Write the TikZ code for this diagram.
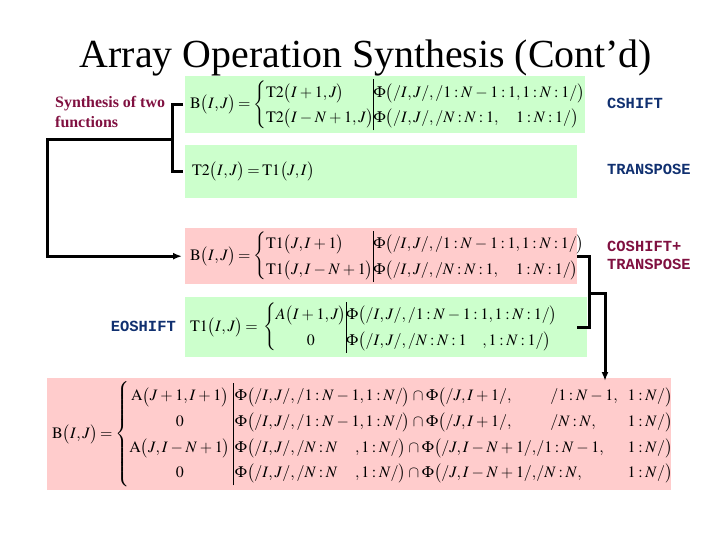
\documentclass[tikz,border=0pt]{standalone}
\usepackage{amsmath}
\usepackage{mathptmx}
\usepackage{fontspec}
\setmainfont{Liberation Serif}
\newfontfamily\opfont{Liberation Mono}
\usetikzlibrary{arrows.meta}
\definecolor{eqgreen}{RGB}{204,255,204}
\definecolor{eqpink}{RGB}{255,204,204}
\definecolor{opred}{RGB}{128,16,64}
\definecolor{opblue}{RGB}{16,48,112}
\newcommand{\grp}[1]{\bigl(#1\bigr)}
\thickmuskip=3mu plus 2mu
\medmuskip=3mu plus 2mu minus 3mu

\begin{document}
\begin{tikzpicture}[x=1bp, y=-1bp,
    eqbox/.style={anchor=north west, inner xsep=5bp, inner ysep=0pt, align=left,
      font=\fontsize{16}{19}\selectfont\def\arraystretch{1.35}},
    oplabel/.style={anchor=west, inner sep=0pt, align=left, font=\opfont\bfseries\fontsize{15.5}{18}\selectfont},
    link/.style={line width=3bp},
  ]
  \useasboundingbox (0,0) rectangle (720,540);

  \node[inner sep=0pt, font=\fontsize{40}{48}\selectfont] (title) at (366,58) {Array Operation Synthesis (Cont’d)};

  % equations
  \node[eqbox, fill=eqgreen, text width=390bp, minimum height=57bp] (cshift) at (185,76)
    {$\mathrm{B}\grp{I,J}=\left\{\begin{array}{@{}l@{}|@{}l@{}}
      \mathrm{T2}\grp{I+1,J} & \Phi\grp{/I,J/,/1:N-1:1,1:N:1/}\\
      \mathrm{T2}\grp{I-N+1,J} & \Phi\grp{/I,J/,/N:N:1,\quad 1:N:1/}
    \end{array}\right.$};
  \node[eqbox, fill=eqgreen, text width=382bp, minimum height=53bp] (transp) at (185,145)
    {\hspace{2bp}$\mathrm{T2}\grp{I,J}=\mathrm{T1}\grp{J,I}$};
  \node[eqbox, fill=eqpink, text width=382bp, minimum height=56bp] (both) at (185,228)
    {$\mathrm{B}\grp{I,J}=\left\{\begin{array}{@{}l@{}|@{}l@{}}
      \mathrm{T1}\grp{J,I+1} & \Phi\grp{/I,J/,/1:N-1:1,1:N:1/}\\
      \mathrm{T1}\grp{J,I-N+1} & \Phi\grp{/I,J/,/N:N:1,\quad 1:N:1/}
    \end{array}\right.$};
  \node[eqbox, fill=eqgreen, text width=392bp, minimum height=60bp] (eoshift) at (185,297)
    {$\mathrm{T1}\grp{I,J}=\;\left\{\begin{array}{@{}c@{}|@{}l@{}}
      A\grp{I+1,J} & \Phi\grp{/I,J/,/1:N-1:1,1:N:1/}\\
      0 & \Phi\grp{/I,J/,/N:N:1\quad,1:N:1/}
    \end{array}\right.$};
  \node[eqbox, fill=eqpink, text width=614bp, minimum height=112bp] (final) at (47,378)
    {$\mathrm{B}\grp{I,J}=\left\{\begin{array}{@{}c@{\;}|@{\,}l@{}l@{\hspace{10bp}}l@{}}
      \mathrm{A}\grp{J+1,I+1} & \Phi\grp{/I,J/,/1:N-1,1:N/}\cap\Phi\bigl(/J,I+1/, & \hspace{14bp}/1:N-1, & 1:N/\bigr)\\
      0 & \Phi\grp{/I,J/,/1:N-1,1:N/}\cap\Phi\bigl(/J,I+1/, & \hspace{14bp}/N:N, & 1:N/\bigr)\\
      \mathrm{A}\grp{J,I-N+1} & \Phi\grp{/I,J/,/N:N\quad\,,1:N/}\cap\Phi\bigl(/J,I-N+1/, & /1:N-1, & 1:N/\bigr)\\
      0 & \Phi\grp{/I,J/,/N:N\quad\,,1:N/}\cap\Phi\bigl(/J,I-N+1/, & /N:N, & 1:N/\bigr)
    \end{array}\right.$};

  % labels
  \node[anchor=west, inner sep=0pt, align=left, text=opred, font=\bfseries\fontsize{16}{20}\selectfont] (synth) at (55,112) {Synthesis of two\\functions};
  \node[oplabel, text=opblue] (lcshift) at (607,103.5) {CSHIFT};
  \node[oplabel, text=opblue] (ltransp) at (607,169.5) {TRANSPOSE};
  \node[oplabel, text=opred] (lboth) at (607,255.5) {COSHIFT+\\TRANSPOSE};
  \node[oplabel, text=opblue, anchor=east] (leoshift) at (176,326) {EOSHIFT};

  % connectors
  \coordinate (jl) at (172,140);
  \draw[link] ([xshift=-2bp]cshift.west) -| (jl) |- ([xshift=-2bp]transp.west);
  \draw[link, -{Latex[length=9bp, width=7bp]}] (jl) -- (47,140) |- ([xshift=-3bp]both.west);

  \coordinate (jr) at (589,293);
  \coordinate (jd) at (605,293);
  \draw[link] (both.east) -| (jr) |- (both.east |- eoshift.east);
  \draw[link, -{Latex[length=9bp, width=7bp]}, shorten >=-3bp] (jr) -- (jd) -- (jd |- final.north);
\end{tikzpicture}
\end{document}
